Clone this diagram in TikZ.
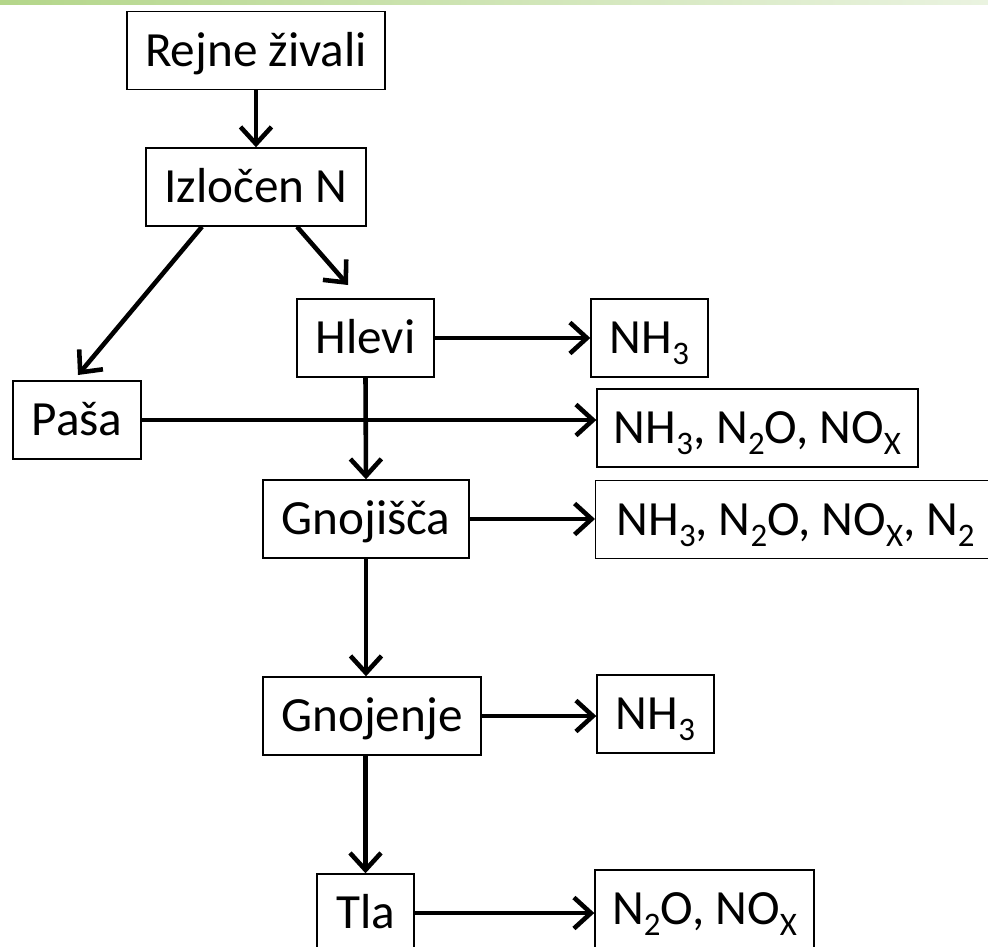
\documentclass[tikz,border=0pt]{standalone}
\usepackage{fontspec}
\setmainfont{Carlito}
\usetikzlibrary{arrows.meta}

\definecolor{bargreen}{RGB}{180,214,138}
\definecolor{barpale}{RGB}{234,243,224}
\newcommand\sub[1]{\raisebox{-6.5pt}{\fontsize{18.7pt}{21pt}\selectfont #1}}

\begin{document}
\begin{tikzpicture}[x=0.02cm, y=-0.02cm,
    box/.style={draw, line width=0.8pt, inner sep=0pt, minimum height=1.56cm,
        text height=17.7pt, text depth=0pt, font=\fontsize{28pt}{33pt}\selectfont},
    flow/.style={->, line width=2.6pt},
    >={Straight Barb[length=3.4mm, width=6.2mm]}]
    \useasboundingbox (0,0) rectangle (988,947);

    % slide bar
    \shade[left color=bargreen, right color=barpale] (0,0) rectangle (988,4);

    % Sources
    \node[box, minimum width=5.16cm] (rejne) at (256,50.5) {Rejne živali};
    \node[box, minimum width=4.4cm] (izlocen) at (256,187) {Izločen N};
    \node[box, minimum width=2.74cm] (hlevi) at (365.5,338) {Hlevi};
    \node[box, minimum width=2.56cm] (pasa) at (77,420) {Paša};
    \node[box, minimum width=4.12cm] (gnojisca) at (366,519) {Gnojišča};
    \node[box, minimum width=4.36cm] (gnojenje) at (372,716) {Gnojenje};
    \node[box, minimum width=1.94cm] (tla) at (365.5,913) {Tla};

    % Emissions
    \node[box, minimum width=2.34cm] (nhA) at (649.5,338) {NH\sub{3}};
    \node[box, minimum width=6.42cm] (emPasa) at (757.5,428) {NH\sub{3}, N\sub{2}O, NO\sub{X}};
    \node[box, anchor=west, align=flush left, inner xsep=0.42cm, text width=7.16cm]
        (emGnoj) at (595,519.5) {NH\sub{3}, N\sub{2}O, NO\sub{X}, N\sub{2}};
    \node[box, minimum width=2.34cm] (nhC) at (655.5,714) {NH\sub{3}};
    \node[box, minimum width=4.38cm] (emTla) at (704.5,909) {N\sub{2}O, NO\sub{X}};

    % split below Izlocen N
    \coordinate (pasatip) at (78,375);
    \coordinate (hlevitip) at (348,285);
    \draw[flow] ([xshift=-1.08cm]izlocen.south) -- (pasatip);
    \draw[flow] ([xshift=0.82cm]izlocen.south) -- (hlevitip);

    % Chain
    \draw[flow] (rejne.south) -- (izlocen.north);
    \draw[flow] (hlevi.south) -- (gnojisca.north);
    \draw[flow] (gnojisca.south) -- (gnojisca.south |- gnojenje.north);
    \draw[flow] (gnojenje.south -| tla.north) -- (tla.north);

    % Losses
    \foreach \a/\b in {hlevi/nhA, pasa/emPasa, gnojisca/emGnoj, gnojenje/nhC, tla/emTla} {
        \draw[flow] (\a.east) -- (\a.east -| \b.west);
    }

\end{tikzpicture}
\end{document}
